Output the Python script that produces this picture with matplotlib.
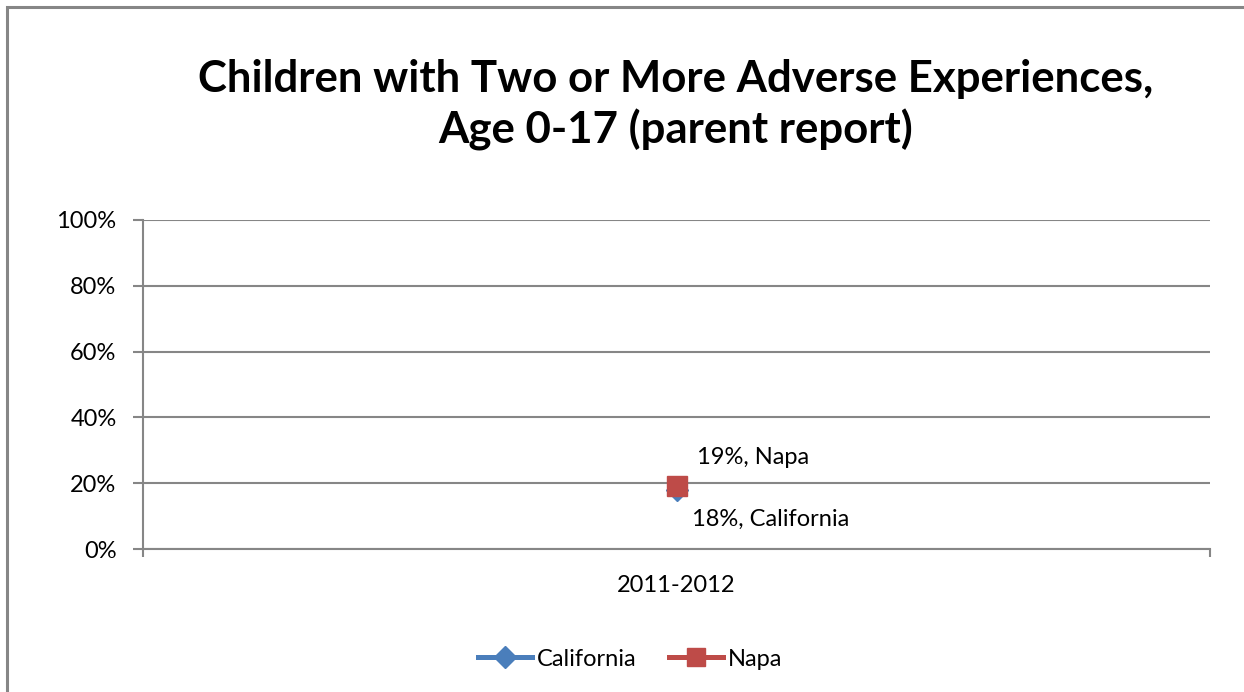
import matplotlib
matplotlib.use("Agg")
import matplotlib.pyplot as plt
from matplotlib.lines import Line2D
from matplotlib.patches import Rectangle

plt.rcParams['font.family'] = ['Lato', 'DejaVu Sans']

# Data
categories = ["2011-2012"]
series_names = ["California", "Napa"]
california = [0.18]
napa = [0.19]
y_ticks = [0.0, 0.2, 0.4, 0.6, 0.8, 1.0]
title = "Children with Two or More Adverse Experiences,\nAge 0-17 (parent report)"

GRID = "#868686"
BLUE = "#4A7EBB"
RED = "#BE4B48"
FS = 17

fig = plt.figure(figsize=(12.44, 6.92), dpi=100)
fig.patch.set_facecolor("white")

# Outer chart border (runs off the right and bottom edges)
fig.add_artist(Rectangle((7 / 1244, -0.05), 1.2, 1 - 7 / 692 + 0.05,
                         transform=fig.transFigure, fill=False,
                         edgecolor=GRID, linewidth=2.2))

ax = fig.add_axes([143 / 1244, 1 - 549 / 692, (1210 - 143) / 1244, (549 - 220) / 692])

x = list(range(len(categories)))
ax.plot(x, california, color=BLUE, marker="D", markersize=11, linewidth=3.6,
        label=series_names[0], zorder=3)
ax.plot(x, napa, color=RED, marker="s", markersize=14.5, linewidth=3.6,
        label=series_names[1], zorder=4)

for xi, v in zip(x, napa):
    ax.annotate(f"{v:.0%}, {series_names[1]}", (xi, v), xytext=(15, 21),
                textcoords="offset points", fontsize=FS, ha="left", va="center")
for xi, v in zip(x, california):
    ax.annotate(f"{v:.0%}, {series_names[0]}", (xi, v), xytext=(11, -21),
                textcoords="offset points", fontsize=FS, ha="left", va="center")

ax.set_ylim(0, 1)
ax.set_xlim(-0.5, len(categories) - 0.5)
ax.set_yticks(y_ticks)
ax.set_yticklabels([f"{t:.0%}" for t in y_ticks])
ax.yaxis.grid(True, color=GRID, linewidth=1.5)
ax.set_axisbelow(True)

ax.set_xticks(x)
ax.set_xticklabels(categories)
ax.set_xticks([-0.5, len(categories) - 0.5], minor=True)
ax.tick_params(axis="x", which="major", length=0, pad=19, labelsize=FS)
ax.tick_params(axis="x", which="minor", length=6, width=1.5, color=GRID)
ax.tick_params(axis="y", length=7, width=1.5, color=GRID, pad=12, labelsize=FS)

for s in ("top", "right"):
    ax.spines[s].set_visible(False)
for s in ("left", "bottom"):
    ax.spines[s].set_color(GRID)
    ax.spines[s].set_linewidth(1.5)

fig.text(676 / 1244, 1 - 105 / 692, title, ha="center", va="center",
         fontsize=31.5, fontweight="bold", linespacing=1.3)

handles = [Line2D([], [], color=BLUE, marker="D", markersize=11, linewidth=3.6),
           Line2D([], [], color=RED, marker="s", markersize=13, linewidth=3.6)]
fig.legend(handles, series_names, loc="center", bbox_to_anchor=(630 / 1244, 1 - 659 / 692),
           ncol=2, frameon=False, fontsize=FS, handlelength=2.3, handletextpad=0.2,
           columnspacing=1.35)

fig.savefig("out.png", dpi=100)
